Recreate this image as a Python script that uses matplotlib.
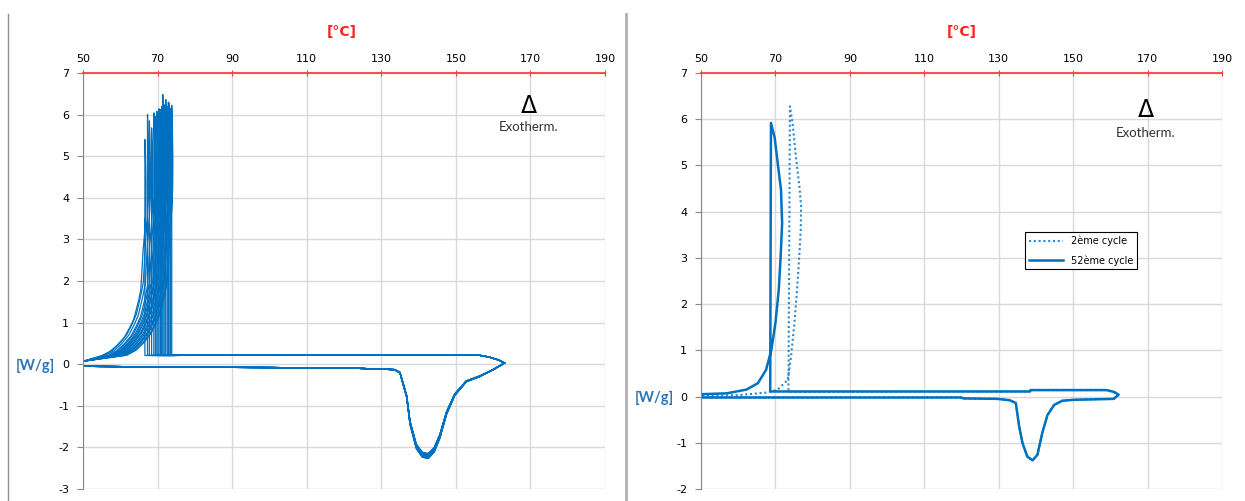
import matplotlib
matplotlib.use("Agg")
from matplotlib import pyplot as plt
from matplotlib.lines import Line2D

plt.rcParams['font.family'] = ['DejaVu Sans']
plt.rcParams['axes.unicode_minus'] = False

# ---- left chart: all cycles overlaid ----
heat_T_left = [50, 75, 100, 124, 133.5]
heat_y_left = [-0.05, -0.07, -0.08, -0.10, -0.13]
melt_T_left = [135, 136.8, 137.7, 139.4, 141, 142.6, 144.2, 145.7, 147.5, 149.7, 152.8, 156.4, 160, 163.1]
melt_y_left = [-0.2, -0.77, -1.4, -1.97, -2.17, -2.2, -2.05, -1.73, -1.17, -0.73, -0.41, -0.29, -0.13, 0.03]
cool_T_left = [161.5, 159, 156, 120, 90]
cool_y_left = [0.1, 0.17, 0.22, 0.23, 0.22]
# exotherm spike shape relative to crystallisation temperature / peak height
spike_dT = [0, 0.15, 0.3, 0.25, 0, -0.5, -1.1, -1.6, -2.2, -3, -4, -5.5, -7.5, -9.5, -12]
spike_frac = [1.0, 0.93, 0.8, 0.68, 0.6, 0.5, 0.33, 0.29, 0.25, 0.2, 0.165, 0.12, 0.083, 0.055, 0.035]
tc_left = [66.6, 67.3, 67.8, 68.4, 69.0, 69.4, 69.8, 70.1, 70.4, 70.8, 71.1, 71.4, 71.7, 72.0, 72.2, 72.6, 72.9, 73.1, 73.5, 73.8]
peak_left = [5.40, 6.00, 5.85, 5.68, 6.04, 5.95, 6.08, 6.0, 6.14, 6.12, 6.2, 6.48, 6.24, 6.1, 6.36, 6.2, 6.3, 6.28, 6.15, 6.22]
melt_scale_left = [0.98, 1.02, 0.99, 1.01, 0.975, 1.03, 1.0, 0.985, 1.015, 1.025, 0.99, 1.005, 0.98, 1.02, 1.0, 1.01, 0.995, 1.03, 0.985, 1.0]

# ---- right chart: 2nd and 52nd cycle ----
heat_T_right = [50, 80, 120, 120.4, 129.7, 133]
heat_y_right = [-0.02, -0.02, -0.02, -0.04, -0.05, -0.08]
melt_T_right = [134.6, 135.5, 136.4, 137.7, 139.1, 140.4, 141.7, 143.1, 144.9, 147.1, 150.2, 160.9, 162.2]
melt_y_right = [-0.14, -0.65, -1.01, -1.30, -1.38, -1.26, -0.79, -0.40, -0.18, -0.09, -0.07, -0.05, 0.04]
cool_T_right = [161, 159, 138.5, 138.4]
cool_y_right = [0.1, 0.14, 0.14, 0.11]
c2_T = [73.5, 73.9, 74.6, 75.5, 76.5, 76.9, 76.8, 76.4, 75.8, 75.1, 74.2, 73.3, 70.6, 68.0, 60, 50]
c2_y = [0.10, 6.28, 5.92, 5.19, 4.5, 4.11, 3.6, 3.03, 2.3, 1.59, 0.87, 0.36, 0.15, 0.09, 0.03, 0.02]
c52_T = [68.6, 68.8, 69.8, 70.4, 71.5, 71.8, 71.4, 70.9, 70.0, 68.9, 67.5, 65.3, 62.2, 56.9, 50]
c52_y = [0.11, 5.92, 5.6, 5.19, 4.47, 3.75, 3.03, 2.31, 1.59, 1.01, 0.58, 0.29, 0.15, 0.07, 0.05]

x_ticks = [50, 70, 90, 110, 130, 150, 170, 190]
blue = '#0070C0'


def style(ax, ymin):
    ax.set_xlim(50, 190)
    ax.set_ylim(ymin, 7)
    ax.set_xticks(x_ticks)
    ax.set_yticks(range(ymin, 8))
    ax.xaxis.tick_top()
    ax.tick_params(axis='x', color='#FF3030', direction='inout', length=5, labelsize=8, pad=4)
    ax.tick_params(axis='y', color='#868686', direction='out', length=4, labelsize=8, pad=6)
    ax.grid(color='#D9D9D9', lw=1)
    ax.set_axisbelow(True)
    ax.spines['top'].set_color('#FF3030')
    ax.spines['top'].set_linewidth(1.2)
    ax.spines['left'].set_color('#868686')
    ax.spines['bottom'].set_visible(False)
    ax.spines['right'].set_visible(False)
    ax.text(169.5, 6.2, 'Δ', fontsize=17, ha='center', va='center')
    ax.text(169.5, 5.7, 'Exotherm.', family='Lato', fontsize=9.5, ha='center', va='center', color='#333333')


fig = plt.figure(figsize=(12.45, 5.01), dpi=100)
ax1 = fig.add_axes([83 / 1245, 1 - 489 / 501, 522 / 1245, 416 / 501])
ax2 = fig.add_axes([701 / 1245, 1 - 489 / 501, 521 / 1245, 416 / 501])

for tc, h, s in zip(tc_left, peak_left, melt_scale_left):
    xs = heat_T_left + melt_T_left + cool_T_left + [tc]
    ys = heat_y_left + [v * s if v < 0 else v for v in melt_y_left] + cool_y_left + [0.21]
    xs += [tc + d for d in spike_dT] + [50]
    ys += [f * h for f in spike_frac] + [0.07]
    ax1.plot(xs, ys, color=blue, lw=0.9)
style(ax1, -3)

base_T = heat_T_right + melt_T_right + cool_T_right
base_y = heat_y_right + melt_y_right + cool_y_right
l2, = ax2.plot(base_T + c2_T, base_y + c2_y, color='#2F87CC', lw=1.5, ls=(0, (1, 1.3)), label='2ème cycle')
l52, = ax2.plot(base_T + c52_T, base_y + c52_y, color=blue, lw=1.8, label='52ème cycle')
style(ax2, -2)
leg = ax2.legend(handles=[l2, l52], loc='upper left', bbox_to_anchor=(0.622, 0.618),
                 fontsize=7, fancybox=False, framealpha=1, edgecolor='black', handlelength=3.5,
                 borderaxespad=0, labelspacing=0.9)
leg.get_frame().set_linewidth(0.8)

# axis titles
for xc in [342, 962]:
    fig.text(xc / 1245, 1 - 32 / 501, '[°C]', color='#FF2020', fontsize=10, fontweight='bold', ha='center', va='center')
for xw, yw in [(35, 366), (654, 398)]:
    fig.text(xw / 1245, 1 - yw / 501, '[W/g]', family='Lato', color='#2E75B6', fontsize=10.5,
             fontweight='bold', ha='center', va='center')

# frame separators
fig.add_artist(Line2D([8 / 1245, 8 / 1245], [0, 1 - 14 / 501], color='#909090', lw=1, transform=fig.transFigure))
fig.add_artist(Line2D([626 / 1245, 626 / 1245], [0, 1 - 14 / 501], color='#B0B0B0', lw=2, transform=fig.transFigure))

fig.savefig('out.png', dpi=100)
